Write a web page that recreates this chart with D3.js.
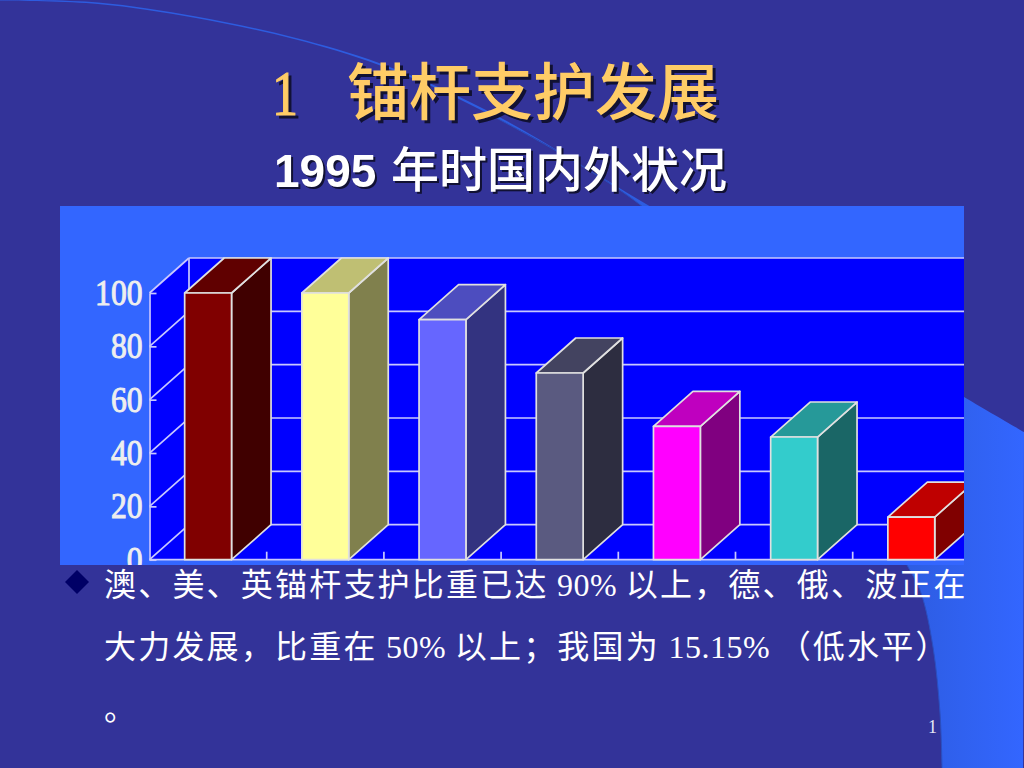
<!DOCTYPE html>
<html>
<head>
<meta charset="utf-8">
<script src="https://cdn.jsdelivr.net/npm/d3@7"></script>
<style>
  html, body { margin: 0; padding: 0; background: #333399; overflow: hidden; }
  svg { display: block; }
</style>
</head>
<body>
<div id="chart"></div>
<script>
const categories = ["澳", "美", "英", "德", "俄", "波", "我国"];
const values = [100, 100, 90, 70, 50, 46, 16];
const frontColors = ["#800000", "#FFFF99", "#6666FF", "#5A5A80", "#FF00FF", "#33CCCC", "#FF0000"];
const sideColors = ["#400000", "#80804D", "#333380", "#2D2D40", "#800080", "#1A6666", "#800000"];
const topColors = ["#600000", "#BFBF73", "#4D4DBF", "#434360", "#BF00BF", "#269999", "#BF0000"];
const yTicks = [0, 20, 40, 60, 80, 100];

const innerEdge = [[-4, 0.5], [98, 4], [196, 18], [294, 39], [379, 65], [483, 111], [643, 207], [780, 350], [907, 565], [921, 593], [933, 647], [940, 713], [942, 768]];
const outerEdge = [[-4, -0.5], [98, 2.5], [196, 16.5], [294, 37.5], [379, 63], [484, 109], [646, 204], [964, 397], [1024, 432]];

const svg = d3.select("#chart").append("svg")
    .attr("width", 1024)
    .attr("height", 768);

const defs = svg.append("defs");
const grad = defs.append("linearGradient")
    .attr("id", "crescent")
    .attr("gradientUnits", "userSpaceOnUse")
    .attr("x1", 900).attr("x2", 1024).attr("y1", 0).attr("y2", 0);
grad.append("stop").attr("offset", "0%").attr("stop-color", "#2D5CE0");
grad.append("stop").attr("offset", "100%").attr("stop-color", "#3366FF");

defs.append("clipPath").attr("id", "panelClip")
  .append("rect")
    .attr("x", 60).attr("y", 206)
    .attr("width", 904).attr("height", 359);

// background crescent
svg.append("rect").attr("width", 1024).attr("height", 768).attr("fill", "#333399");
const edge = d3.line().curve(d3.curveCatmullRom.alpha(0.5));
const crescent = edge(outerEdge) + "L1023,768" + "L942,768" +
    edge(innerEdge.slice().reverse()).replace("M", "L") + "Z";
svg.append("path").attr("d", crescent).attr("fill", "url(#crescent)");
svg.append("path").attr("d", edge(innerEdge.slice(5))).attr("fill", "none")
    .attr("stroke", "#2A4FC0").attr("stroke-width", 1);

// chart panel
svg.append("rect")
    .attr("x", 60).attr("y", 206)
    .attr("width", 904).attr("height", 359)
    .attr("fill", "#3366FF");

const plot = svg.append("g").attr("clip-path", "url(#panelClip)");

const depthX = 39.5, depthY = -35;
const lineColor = "#C8C8FF";
const lineWidth = 1.7;

const x = d3.scaleBand()
    .domain(categories)
    .range([149.5, 969.9])
    .paddingInner(0.6)
    .paddingOuter(0.3);
const y = d3.scaleLinear()
    .domain([0, 100])
    .range([559.7, 293]);

const step = x.step();
const x0 = x.range()[0], x1 = x.range()[1];

// walls
plot.append("path")
    .attr("d", `M${x0},${y(0)}L${x0},${y(100)}L${x0 + depthX},${y(100) + depthY}L${x1},${y(100) + depthY}L${x1},${y(0)}Z`)
    .attr("fill", "#0000FF");

// gridlines, back wall and side wall
plot.selectAll("line.back").data(yTicks).join("line")
    .attr("class", "back")
    .attr("x1", x0 + depthX).attr("x2", x1)
    .attr("y1", d => y(d) + depthY).attr("y2", d => y(d) + depthY)
    .attr("stroke", lineColor).attr("stroke-width", lineWidth);
plot.selectAll("line.side").data(yTicks).join("line")
    .attr("class", "side")
    .attr("x1", x0).attr("x2", x0 + depthX)
    .attr("y1", d => y(d)).attr("y2", d => y(d) + depthY)
    .attr("stroke", lineColor).attr("stroke-width", lineWidth);
plot.append("line")
    .attr("x1", x0 + depthX).attr("x2", x0 + depthX)
    .attr("y1", y(100) + depthY).attr("y2", y(0) + depthY)
    .attr("stroke", lineColor).attr("stroke-width", lineWidth);

// floor ticks
plot.selectAll("line.cat").data(d3.range(1, categories.length)).join("line")
    .attr("class", "cat")
    .attr("x1", d => x0 + d * step).attr("x2", d => x0 + d * step)
    .attr("y1", y(0) - 8).attr("y2", y(0))
    .attr("stroke", lineColor).attr("stroke-width", lineWidth);

// value axis
const yAxis = d3.axisLeft(y).tickValues(yTicks).tickSize(0).tickPadding(7);
const axisG = plot.append("g")
    .attr("transform", `translate(${x0},0)`)
    .call(yAxis);
axisG.select(".domain")
    .attr("stroke", lineColor).attr("stroke-width", lineWidth);
axisG.selectAll("text")
    .attr("font-family", "'Liberation Serif', serif")
    .attr("font-size", 36)
    .attr("fill", "#EEEEEE")
    .attr("stroke", "#EEEEEE")
    .attr("stroke-width", 1)
    .attr("textLength", d => String(d).length * 15.8)
    .attr("lengthAdjust", "spacingAndGlyphs");
axisG.selectAll(".tick").append("line")
    .attr("x2", 7)
    .attr("stroke", lineColor).attr("stroke-width", lineWidth);

plot.append("line")
    .attr("x1", x0).attr("x2", x1)
    .attr("y1", y(0)).attr("y2", y(0))
    .attr("stroke", lineColor).attr("stroke-width", 1.8);

// 3d bars
const bars = plot.selectAll("g.bar")
    .data(categories.map((c, i) => ({ c, v: values[i], i })))
    .join("g")
    .attr("class", "bar")
    .attr("stroke", "#E0E0E0")
    .attr("stroke-width", 1.7)
    .attr("stroke-linejoin", "round");

bars.append("path")
    .attr("fill", d => sideColors[d.i])
    .attr("d", d => {
      const r = x(d.c) + x.bandwidth();
      return `M${r},${y(d.v)}L${r + depthX},${y(d.v) + depthY}L${r + depthX},${y(0) + depthY}L${r},${y(0)}Z`;
    });
bars.append("path")
    .attr("fill", d => topColors[d.i])
    .attr("d", d => {
      const l = x(d.c), r = l + x.bandwidth();
      return `M${l},${y(d.v)}L${l + depthX},${y(d.v) + depthY}L${r + depthX},${y(d.v) + depthY}L${r},${y(d.v)}Z`;
    });
bars.append("rect")
    .attr("x", d => x(d.c))
    .attr("y", d => y(d.v))
    .attr("width", x.bandwidth())
    .attr("height", d => y(0) - y(d.v))
    .attr("fill", d => frontColors[d.i]);

// titles
const cjk = "'Noto Sans CJK SC', sans-serif";
const title = svg.append("g").style("filter", "drop-shadow(3px 3px 0 #111133)");
title.append("text")
    .attr("x", 272).attr("y", 115)
    .attr("font-family", "'Liberation Serif', serif")
    .attr("font-size", 64)
    .attr("textLength", 26)
    .attr("lengthAdjust", "spacingAndGlyphs")
    .attr("fill", "#FFCC66")
    .attr("stroke", "#FFCC66")
    .attr("stroke-width", 1.2)
    .text("1");
title.append("text")
    .attr("x", 347).attr("y", 115)
    .attr("font-family", cjk)
    .attr("font-weight", 500)
    .attr("font-size", 62)
    .attr("fill", "#FFCC66")
    .text("锚杆支护发展");

const subtitle = svg.append("g").style("filter", "drop-shadow(2.5px 2.5px 0 #111133)");
subtitle.append("text")
    .attr("x", 274).attr("y", 187)
    .attr("font-family", "'Liberation Sans', sans-serif")
    .attr("font-weight", 700)
    .attr("font-size", 46)
    .attr("fill", "#FFFFFF")
    .text("1995");
subtitle.append("text")
    .attr("x", 391).attr("y", 187)
    .attr("font-family", cjk)
    .attr("font-weight", 500)
    .attr("font-size", 48)
    .attr("fill", "#FFFFFF")
    .text("年时国内外状况");

// bullet
svg.append("path")
    .attr("transform", "translate(77,582)")
    .attr("d", d3.line()([[0, -12], [12, 0], [0, 12], [-12, 0]]) + "Z")
    .attr("fill", "#000066");

// body text
const bodyLines = [
  { y: 596, runs: [["澳、美、英锚杆支护比重已达", 0], [" 90% ", 1], ["以上，德、俄、波正在", 0]] },
  { y: 658, runs: [["大力发展，比重在", 0], [" 50% ", 1], ["以上；我国为", 0], [" 15.15% ", 1], ["（低水平）", 0]] },
  { y: 720, runs: [["。", 0]] }
];
const body = svg.selectAll("text.body").data(bodyLines).join("text")
    .attr("class", "body")
    .attr("x", 104)
    .attr("y", d => d.y)
    .attr("font-size", 32)
    .attr("fill", "#FFFFFF");
body.selectAll("tspan").data(d => d.runs).join("tspan")
    .attr("font-family", d => d[1] ? "'Liberation Serif', serif" : cjk)
    .attr("letter-spacing", d => d[1] ? 0.5 : 2.2)
    .style("white-space", "pre")
    .text(d => d[0]);

svg.append("text")
    .attr("x", 928).attr("y", 733)
    .attr("font-family", "'Liberation Serif', serif")
    .attr("font-size", 18)
    .attr("fill", "#E6E6F5")
    .text("1");
</script>
</body>
</html>
